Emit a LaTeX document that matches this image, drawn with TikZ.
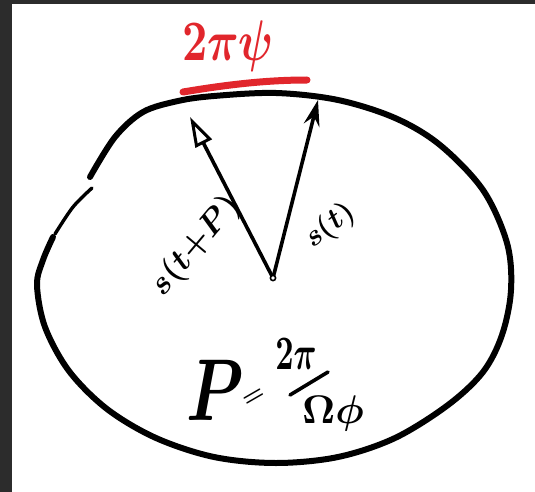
\documentclass[tikz,border=0pt]{standalone}
\usetikzlibrary{arrows.meta}
\definecolor{framegray}{HTML}{2C2C2C}
\definecolor{penred}{HTML}{E1262C}
\begin{document}
\begin{tikzpicture}[x=1pt,y=-1pt,
  ink/.style={line width=6pt,line cap=round,line join=round},
  vec/.style={line width=3.6pt,line cap=round,line join=round},
  hand/.style={inner sep=0pt,font=\boldmath,scale=#1,transform shape},
]
\useasboundingbox (0,0) rectangle (535,492);
\fill[white] (0,0) rectangle (535,492);
\fill[framegray] (0,0) rectangle (12,492);
\fill[framegray] (0,0) rectangle (535,4);
% outline
\draw[ink] plot[smooth, tension=0.55] coordinates {(53,237) (43,260) (37,285) (45,327) (69,371) (107,409) (156,438) (214,457) (276,463) (338,457) (395,438) (448,405) (483,372) (502,335) (511,290) (507,243) (483,190) (440,145) (395,118) (338,100) (276,93) (214,96) (178,101) (143,112) (115,137) (90,177)};
\draw[line width=3.4pt, line cap=round] plot[smooth, tension=0.55] coordinates {(92,188) (73,207) (55,234)};
% red label
\coordinate (ul1) at (183,92);
\coordinate (ul2) at (307,80);
\draw[penred, line width=7pt, line cap=round] (ul1) .. controls (225,85) and (265,80) .. (ul2);
\node[hand=4.4, yscale=1.3, text=penred] (title) at (228,46) {$2\pi\psi$};
% vectors
\coordinate (o) at (273,278);
\coordinate (tipL) at (190,117);
\coordinate (tipR) at (318,100);
\draw[vec, -{Triangle[open, length=30pt, width=18pt, line width=3pt]}] (o) -- (tipL);
\draw[vec, -{Stealth[length=26pt, width=16pt, inset=9pt]}] (o) -- (tipR);
\draw[line width=1.6pt, fill=white] (o) circle[radius=2.6];
\node[hand=3.3, rotate=50] (lbl1) at (196,246) {$s(t{+}P)$};
\node[hand=3, rotate=38] (lbl2) at (330,226) {$s(t)$};
% period formula
\node[hand=6.5, yscale=1.35] (P) at (215,390) {$P$};
\node[hand=2.5, rotate=30] (eq) at (254,398) {$=$};
\node[hand=3.2, yscale=1.5] (num) at (296,354) {$2\pi$};
\coordinate (bar1) at (290,395);
\coordinate (bar2) at (328,372);
\draw[vec] (bar1) -- (bar2);
\node[hand=4] (den) at (333,413) {$\Omega\phi$};
\end{tikzpicture}
\end{document}
